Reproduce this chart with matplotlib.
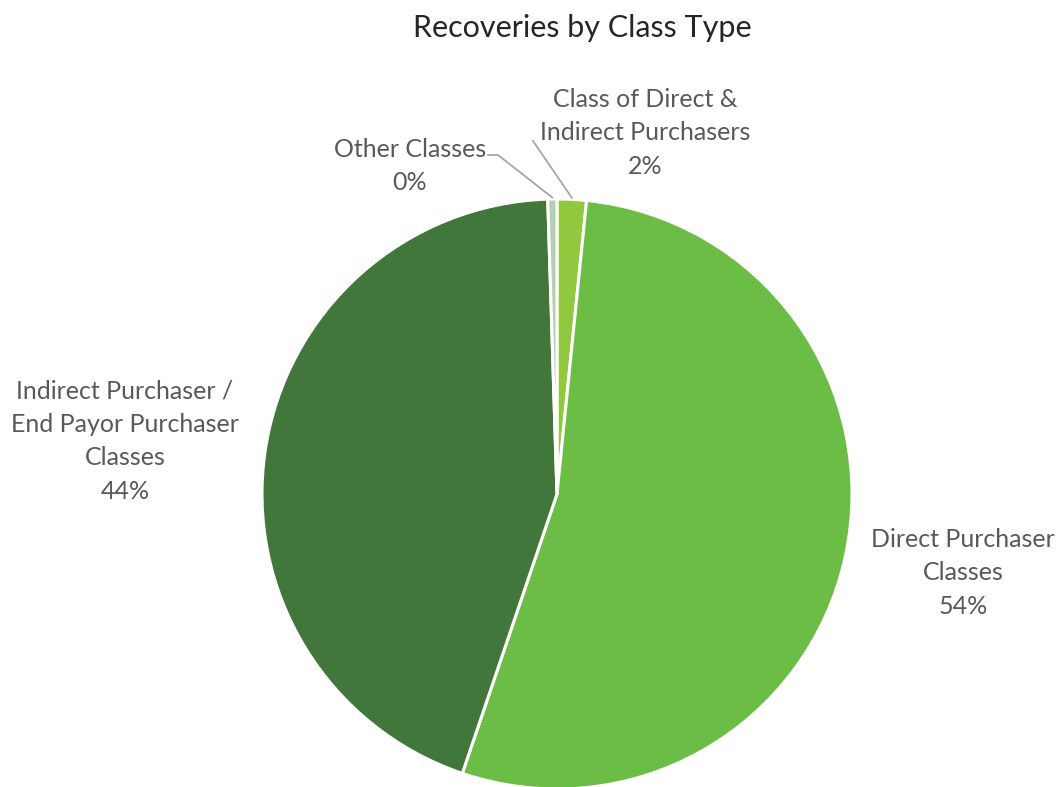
import matplotlib.pyplot as plt
import numpy as np

# datos (porcentajes aproximados)
categorias = ['Class of Direct &\nIndirect Purchasers', 'Direct Purchaser\nClasses',
              'Indirect Purchaser /\nEnd Payor Purchaser\nClasses', 'Other Classes']
valores = [1.6, 53.6, 44.3, 0.5]
etiquetas_pct = ['2%', '54%', '44%', '0%']
colores = ['#92c83e', '#6cbd45', '#41773a', '#b5cdb1']

plt.rcParams['font.family'] = ['Lato', 'DejaVu Sans']

fig = plt.figure(figsize=(10.59, 7.87), dpi=100)
ax = fig.add_axes([0, 0, 1, 1])

cx, cy, r = 557, 787 - 494, 295
wedges, _ = ax.pie(valores, colors=colores, startangle=90, counterclock=False,
                   center=(cx, cy), radius=r, frame=True,
                   wedgeprops=dict(edgecolor='white', linewidth=2.2))
ax.set_xlim(0, 1059)
ax.set_ylim(0, 787)
ax.set_aspect('equal')
ax.axis('off')

gris = '#595959'
# posiciones de las etiquetas (pixeles desde arriba)
pos_txt = [(645, 133), (963, 573), (125, 441), (410, 166)]
for i, (x, y) in enumerate(pos_txt):
    ax.text(x, 787 - y, categorias[i] + '\n' + etiquetas_pct[i], ha='center', va='center',
            fontsize=18, color=gris, linespacing=1.55)

# lineas guia para las porciones chicas
def punto_borde(w, k=1.0):
    ang = np.deg2rad((w.theta1 + w.theta2) / 2)
    return cx + r * k * np.cos(ang), cy + r * k * np.sin(ang)

px, py = punto_borde(wedges[0], 1.005)
ax.plot([533, px], [787 - 141, py], color='#a6a6a6', lw=1.3)
px, py = punto_borde(wedges[3], 1.005)
ax.plot([488, 498, px], [787 - 155, 787 - 155, py], color='#a6a6a6', lw=1.3)

ax.text(582, 787 - 28, 'Recoveries by Class Type', ha='center', va='center',
        fontsize=22, color='#262626')

fig.savefig('out.png', dpi=100)
